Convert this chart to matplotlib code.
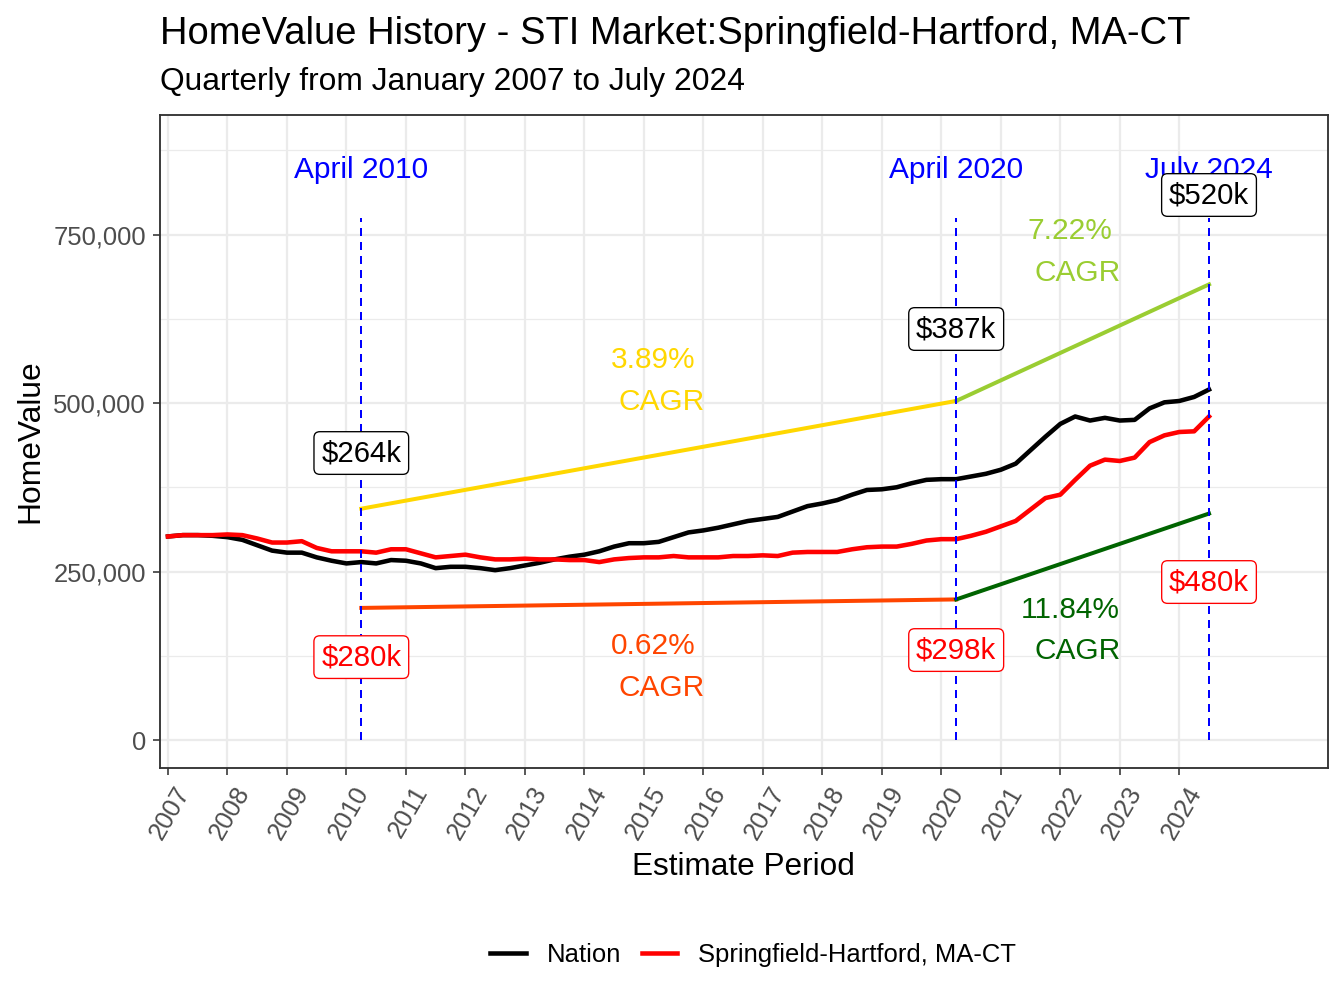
import numpy as np
import matplotlib
matplotlib.use('Agg')
import matplotlib.pyplot as plt
import matplotlib.transforms as mtransforms
from matplotlib.ticker import FuncFormatter, MultipleLocator

plt.rcParams['font.family'] = ['Liberation Sans', 'DejaVu Sans']

# quarterly estimates, Jan 2007 .. Jul 2024 (thousands of $)
first_year = 2007
nation = [302, 304, 304, 303, 301, 297, 289, 281, 278, 278,
          271, 266, 262, 264, 262, 267, 266, 262, 255, 257,
          257, 255, 252, 255, 259, 263, 268, 272, 275, 280,
          287, 292, 292, 294, 301, 308, 311, 315, 320, 325,
          328, 331, 339, 347, 351, 356, 364, 371, 372, 375,
          381, 386, 387, 387, 391, 395, 401, 410, 430, 450,
          469, 480, 474, 478, 474, 475, 492, 501, 503, 509, 520]
springfield = [302, 304, 304, 304, 305, 304, 299, 293, 293, 295,
               285, 280, 280, 280, 278, 283, 283, 277, 271, 273,
               275, 271, 268, 268, 269, 268, 268, 267, 267, 264,
               268, 270, 271, 271, 273, 271, 271, 271, 273, 273,
               274, 273, 278, 279, 279, 279, 283, 286, 287, 287,
               291, 296, 298, 298, 303, 309, 317, 325, 342, 359,
               364, 386, 407, 416, 414, 419, 442, 452, 457, 458, 480]

series_names = ['Nation', 'Springfield-Hartford, MA-CT']
series_colors = ['black', 'red']

# key periods (quarter index into the series)
key_idx = [13, 53, 70]
key_titles = ['April 2010', 'April 2020', 'July 2024']
nation_cagr = ['3.89%', '7.22%']
metro_cagr = ['0.62%', '11.84%']
nation_cagr_colors = ['gold', 'yellowgreen']
metro_cagr_colors = ['orangered', 'darkgreen']

# display offsets for the CAGR guide lines and labels
upper_scale = 1.3
lower_scale = 0.7
nation_label_y = [425800, 609800, 808600]
metro_label_y = [123000, 133500, 234400]
nation_cagr_pos = [(2015.15, 2015.30, 563800, 501400), (2022.16, 2022.29, 755000, 693000)]
metro_cagr_pos = [(2015.15, 2015.30, 139400, 77100), (2022.16, 2022.29, 192800, 132000)]

years = first_year + np.arange(len(nation)) / 4
nation_v = np.array(nation) * 1000
metro_v = np.array(springfield) * 1000

W, H = 1344, 1008
fig = plt.figure(figsize=(W / 192, H / 192), dpi=192)
ax = fig.add_axes([160 / W, 1 - 768 / H, (1328 - 160) / W, (768 - 115) / H])

ax.set_xlim(2006.866, 2026.5)
ax.set_ylim(-41500, 927300)
ax.set_xticks(range(2007, 2025))
ax.yaxis.set_major_locator(MultipleLocator(250000))
ax.yaxis.set_minor_locator(MultipleLocator(125000))
ax.yaxis.set_major_formatter(FuncFormatter(lambda v, p: f'{v:,.0f}'))
ax.set_axisbelow(True)
ax.grid(which='major', color='#EBEBEB', lw=0.85)
ax.grid(which='minor', axis='y', color='#EBEBEB', lw=0.45)
ax.tick_params(which='major', length=2.75, width=0.6, color='#333333', pad=2.5,
               labelcolor='#4D4D4D', labelsize=9.6)
ax.tick_params(which='minor', length=0)
ax.set_xticklabels([str(y) for y in range(2007, 2025)], rotation=60,
                   ha='right', va='top', rotation_mode='anchor')
for s in ax.spines.values():
    s.set_color('#333333')
    s.set_linewidth(0.7)

for vals, name, col in zip([nation_v, metro_v], series_names, series_colors):
    ax.plot(years, vals, color=col, lw=1.7, label=name, zorder=3)

kx = years[key_idx]
for i in range(2):
    seg = slice(i, i + 2)
    ax.plot(kx[seg], nation_v[key_idx][seg] * upper_scale,
            color=nation_cagr_colors[i], lw=1.5, zorder=3)
    ax.plot(kx[seg], metro_v[key_idx][seg] * lower_scale,
            color=metro_cagr_colors[i], lw=1.5, zorder=3)

ax.vlines(kx, 0, 775000, colors='blue', linestyles=(0, (4, 3)), lw=0.75, zorder=4)
for x, t in zip(kx, key_titles):
    ax.text(x, 845000, t, color='blue', ha='center', va='center', fontsize=11.2, zorder=5)

for i in range(2):
    x1, x2, y1, y2 = nation_cagr_pos[i]
    ax.text(x1, y1, nation_cagr[i], color=nation_cagr_colors[i], ha='center', va='center', fontsize=11.2)
    ax.text(x2, y2, 'CAGR', color=nation_cagr_colors[i], ha='center', va='center', fontsize=11.2)
    x1, x2, y1, y2 = metro_cagr_pos[i]
    ax.text(x1, y1, metro_cagr[i], color=metro_cagr_colors[i], ha='center', va='center', fontsize=11.2)
    ax.text(x2, y2, 'CAGR', color=metro_cagr_colors[i], ha='center', va='center', fontsize=11.2)

for j, x in enumerate(kx):
    ax.text(x, nation_label_y[j], f'${nation[key_idx[j]]}k', ha='center', va='center',
            fontsize=11, color='black', zorder=10,
            bbox=dict(boxstyle='round,pad=0.25,rounding_size=0.2', fc='white', ec='black', lw=0.5))
    ax.text(x, metro_label_y[j], f'${springfield[key_idx[j]]}k', ha='center', va='center',
            fontsize=11, color='red', zorder=10,
            bbox=dict(boxstyle='round,pad=0.25,rounding_size=0.2', fc='white', ec='red', lw=0.5))

fig.text(160 / W, 1 - 44 / H, 'HomeValue History - STI Market:Springfield-Hartford, MA-CT',
         fontsize=14.3, va='baseline', ha='left')
fig.text(160 / W, 1 - 90 / H, 'Quarterly from January 2007 to July 2024',
         fontsize=11.9, va='baseline', ha='left')
fig.text(743 / W, 1 - 867 / H, 'Estimate Period', fontsize=11.8, ha='center', va='center')
fig.text(30 / W, 1 - 441 / H, 'HomeValue', fontsize=11.9, ha='center', va='center', rotation=90)

handles, labels = ax.get_legend_handles_labels()
fig.legend(handles, labels, loc='center', bbox_to_anchor=(753 / W, 1 - 955 / H), ncol=2,
           frameon=False, fontsize=9.6, handlelength=1.4, handletextpad=0.81, columnspacing=0.81)

# nudge the rotated year labels to the right, as in the original
shift = mtransforms.ScaledTranslation(6 / 192, 0, fig.dpi_scale_trans)
for tick in ax.xaxis.get_major_ticks():
    tick.label1.set_transform(tick.label1.get_transform() + shift)

fig.savefig('out.png', dpi=192)
